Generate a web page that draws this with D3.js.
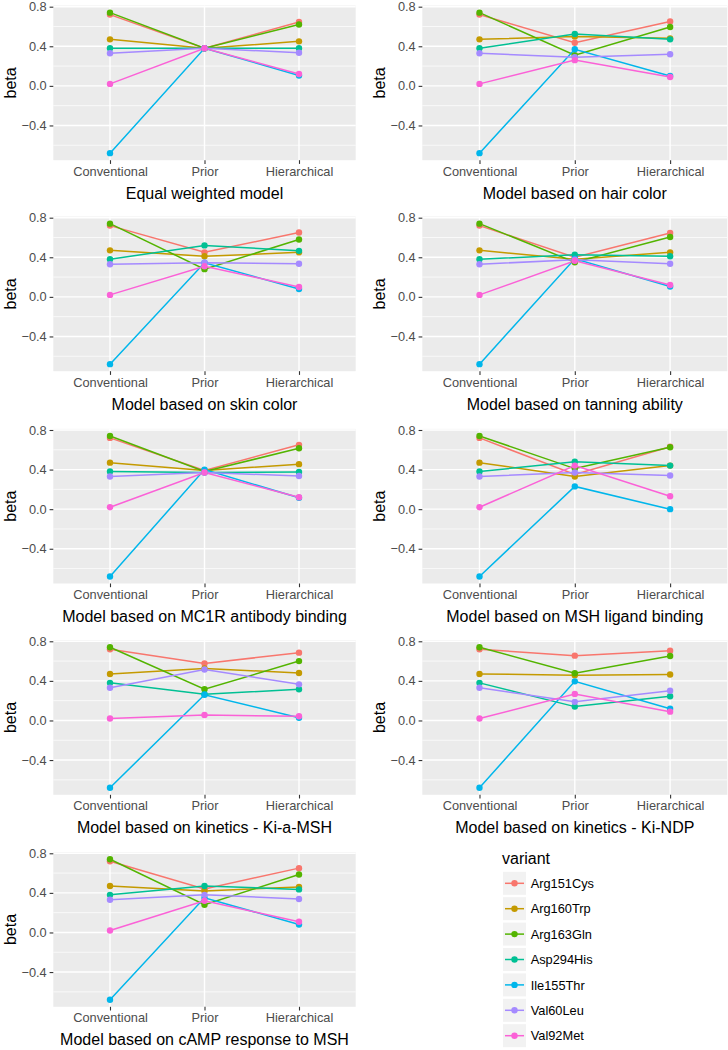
<!DOCTYPE html>
<html><head><meta charset="utf-8">
<script src="https://cdn.jsdelivr.net/npm/d3@7"></script>
<style>body{margin:0;background:#fff}svg{display:block}text{font-family:"Liberation Sans",Arial,sans-serif}</style>
</head><body>
<svg id="c" width="728" height="1050"></svg>
<script>
const categories = ["Conventional", "Prior", "Hierarchical"];
const variants = ["Arg151Cys", "Arg160Trp", "Arg163Gln", "Asp294His", "Ile155Thr", "Val60Leu", "Val92Met"];
const colors = ["#F8766D", "#C49A00", "#53B400", "#00C094", "#00B6EB", "#A58AFF", "#FB61D7"];
const yTicks = [-0.4, 0.0, 0.4, 0.8];
const yMinor = [-0.6, -0.2, 0.2, 0.6];
const panelTitles = ["Equal weighted model", "Model based on hair color", "Model based on skin color",
  "Model based on tanning ability", "Model based on MC1R antibody binding", "Model based on MSH ligand binding",
  "Model based on kinetics - Ki-a-MSH", "Model based on kinetics - Ki-NDP", "Model based on cAMP response to MSH"];

// Conventional estimates (same in every model), in variant order
const conventional = [0.72, 0.47, 0.74, 0.38, -0.68, 0.33, 0.02];
// Prior / Hierarchical estimates per model, in variant order
const priorEqual = [0.38, 0.38, 0.38, 0.38, 0.38, 0.38, 0.38];
const hierEqual  = [0.645, 0.45, 0.62, 0.38, 0.105, 0.335, 0.12];
const priorHair  = [0.435, 0.50, 0.31, 0.525, 0.37, 0.29, 0.26];
const hierHair   = [0.65, 0.48, 0.595, 0.47, 0.10, 0.32, 0.09];
const priorSkin  = [0.45, 0.41, 0.28, 0.52, 0.345, 0.345, 0.31];
const hierSkin   = [0.65, 0.45, 0.58, 0.465, 0.08, 0.335, 0.10];
const priorTan   = [0.40, 0.38, 0.35, 0.425, 0.385, 0.375, 0.365];
const hierTan    = [0.645, 0.45, 0.605, 0.41, 0.105, 0.335, 0.12];
const priorMC1R  = [0.39, 0.39, 0.38, 0.37, 0.40, 0.37, 0.37];
const hierMC1R   = [0.65, 0.455, 0.615, 0.375, 0.115, 0.335, 0.12];
const priorMSH   = [0.35, 0.33, 0.41, 0.48, 0.23, 0.37, 0.44];
const hierMSH    = [0.63, 0.44, 0.625, 0.44, 0.0, 0.34, 0.13];
const priorKiA   = [0.575, 0.525, 0.315, 0.265, 0.26, 0.515, 0.055];
const hierKiA    = [0.685, 0.48, 0.60, 0.315, 0.028, 0.365, 0.043];
const priorKiN   = [0.655, 0.458, 0.477, 0.14, 0.395, 0.188, 0.267];
const hierKiN    = [0.705, 0.464, 0.652, 0.244, 0.118, 0.30, 0.089];
const priorCAMP  = [0.44, 0.42, 0.28, 0.47, 0.35, 0.38, 0.32];
const hierCAMP   = [0.65, 0.46, 0.585, 0.435, 0.08, 0.338, 0.108];

const priors = [priorEqual, priorHair, priorSkin, priorTan, priorMC1R, priorMSH, priorKiA, priorKiN, priorCAMP];
const hiers  = [hierEqual, hierHair, hierSkin, hierTan, hierMC1R, hierMSH, hierKiA, hierKiN, hierCAMP];

const svg = d3.select("#c");
const allVals = conventional.concat(...priors, ...hiers);
const [mn, mx] = d3.extent(allVals);
const pad = (mx - mn) * 0.05;
const yDomain = [mn - pad, mx + pad];

const colX = [53.3, 422.3];
const colW = [302.4, 305];
const betaX = [10, 379];
const rowTop = [5.6, 216.6, 428.9, 640.2, 852.2];
const pH = 154.6;

panelTitles.forEach((title, i) => {
  const col = i % 2, row = Math.floor(i / 2);
  const x0 = colX[col], w = colW[col], y0 = rowTop[row];
  const g = svg.append("g").attr("transform", `translate(${x0},${y0})`);
  const x = d3.scalePoint().domain(categories).range([0, w]).padding(0.6);
  const y = d3.scaleLinear().domain(yDomain).range([pH, 0]);

  g.append("rect").attr("width", w).attr("height", pH).attr("fill", "#EBEBEB");
  g.selectAll(".mn").data(yMinor).join("line").attr("class", "mn")
    .attr("x1", 0).attr("x2", w).attr("y1", d => y(d)).attr("y2", d => y(d))
    .attr("stroke", "#fff").attr("stroke-width", 0.7);
  g.selectAll(".mj").data(yTicks).join("line").attr("class", "mj")
    .attr("x1", 0).attr("x2", w).attr("y1", d => y(d)).attr("y2", d => y(d))
    .attr("stroke", "#fff").attr("stroke-width", 1.4);
  g.selectAll(".vx").data(categories).join("line").attr("class", "vx")
    .attr("x1", d => x(d)).attr("x2", d => x(d)).attr("y1", 0).attr("y2", pH)
    .attr("stroke", "#fff").attr("stroke-width", 1.4);

  const yAxis = g.append("g").call(d3.axisLeft(y).tickValues(yTicks).tickFormat(d3.format(".1f")).tickSize(3.7).tickPadding(2.9));
  yAxis.select(".domain").remove();
  yAxis.selectAll("line").attr("stroke", "#333").attr("stroke-width", 1.1);
  yAxis.selectAll("text").attr("fill", "#4D4D4D").style("font-size", "12.8px").attr("font-family", null);

  const xAxis = g.append("g").attr("transform", `translate(0,${pH})`)
    .call(d3.axisBottom(x).tickSize(3.7).tickPadding(2.9));
  xAxis.select(".domain").remove();
  xAxis.selectAll("line").attr("stroke", "#333").attr("stroke-width", 1.1);
  xAxis.selectAll("text").attr("fill", "#4D4D4D").style("font-size", "12.8px").attr("font-family", null);

  g.append("text").attr("x", w / 2).attr("y", pH + 38.5).attr("text-anchor", "middle")
    .style("font-size", "16px").attr("fill", "#000").text(title);
  g.append("text").attr("transform", `translate(${betaX[col] - x0 + 5.5},${pH / 2}) rotate(-90)`)
    .attr("text-anchor", "middle").style("font-size", "16px").attr("fill", "#000").text("beta");

  const series = variants.map((v, k) => ({ v, k, vals: [conventional[k], priors[i][k], hiers[i][k]] }));
  const line = d3.line().x((d, j) => x(categories[j])).y(d => y(d));
  g.selectAll(".ln").data(series).join("path").attr("class", "ln")
    .attr("d", s => line(s.vals)).attr("fill", "none")
    .attr("stroke", s => colors[s.k]).attr("stroke-width", 1.5);
  series.forEach(s => {
    g.append("g").selectAll("circle").data(s.vals).join("circle")
      .attr("cx", (d, j) => x(categories[j])).attr("cy", d => y(d)).attr("r", 3.2)
      .attr("fill", colors[s.k]);
  });
});

// Legend
const lg = svg.append("g");
lg.append("text").attr("x", 502).attr("y", 863.5).style("font-size", "16px").attr("fill", "#000").text("variant");
variants.forEach((v, k) => {
  const cy = 883.3 + 25.4 * k;
  lg.append("rect").attr("x", 503).attr("y", cy - 11.5).attr("width", 23).attr("height", 23).attr("fill", "#F2F2F2");
  lg.append("line").attr("x1", 505).attr("x2", 524).attr("y1", cy).attr("y2", cy)
    .attr("stroke", colors[k]).attr("stroke-width", 1.5);
  lg.append("circle").attr("cx", 514.5).attr("cy", cy).attr("r", 3.2).attr("fill", colors[k]);
  lg.append("text").attr("x", 530.7).attr("y", cy + 4.6).style("font-size", "12.8px").attr("fill", "#000").text(v);
});
</script>
</body></html>
